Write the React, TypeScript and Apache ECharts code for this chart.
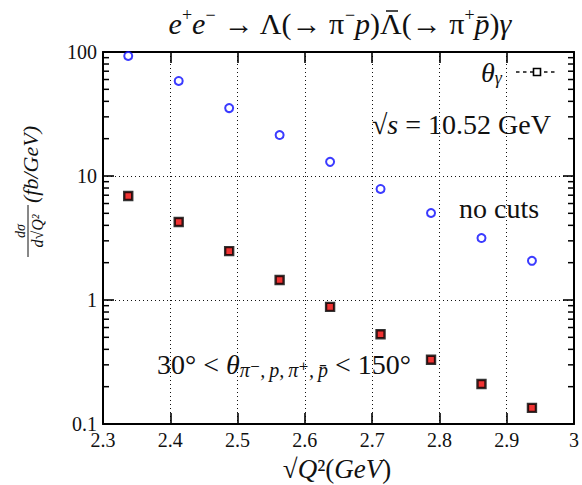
import React, { useEffect, useRef } from "react";
import * as echarts from "echarts";

const xValues = [2.3375, 2.4125, 2.4875, 2.5625, 2.6375, 2.7125, 2.7875, 2.8625, 2.9375];
const noCuts = [92.9, 58.4, 35.3, 21.4, 13.0, 7.86, 5.03, 3.16, 2.07];
const withCuts = [6.9, 4.26, 2.48, 1.45, 0.88, 0.53, 0.33, 0.21, 0.135];
const minorTickValues = [
  0.2, 0.3, 0.4, 0.5, 0.6, 0.7, 0.8, 0.9,
  2, 3, 4, 5, 6, 7, 8, 9,
  20, 30, 40, 50, 60, 70, 80, 90,
];
const xMin = 2.3;
const xMax = 3;
const yMin = 0.1;
const yMax = 100;

const FONT = "'Liberation Serif', 'DejaVu Serif', serif";

export default function App() {
  const ref = useRef<HTMLDivElement>(null);
  useEffect(() => {
    if (!ref.current) return;
    const chart = echarts.init(ref.current, null, { renderer: "svg" });
    const axisLine = { show: true, lineStyle: { color: "#000", width: 2 } };
    const majorTick = { show: true, inside: true, length: 11, lineStyle: { color: "#000", width: 1.6 } };
    const grid = { show: true, lineStyle: { color: "#111", width: 1, type: [1, 3] as any } };
    const tickFont = { fontFamily: FONT, fontSize: 20, color: "#111" };
    const option: any = {
      animation: false,
      backgroundColor: "#fff",
      grid: { left: 103, top: 52, right: 6, bottom: 61, containLabel: false },
      xAxis: [
        {
          type: "value", min: xMin, max: xMax, interval: 0.1,
          axisLine, axisTick: majorTick, splitLine: grid,
          axisLabel: { ...tickFont, margin: 6, formatter: (v: number) => (Math.abs(v - 3) < 1e-9 ? "3" : v.toFixed(1)) },
        },
        {
          type: "value", position: "top", min: xMin, max: xMax, interval: 0.1,
          axisLine, axisTick: majorTick, splitLine: { show: false }, axisLabel: { show: false },
        },
      ],
      yAxis: [
        {
          type: "log", logBase: 10, min: yMin, max: yMax,
          axisLine, axisTick: majorTick, splitLine: grid,
          axisLabel: { ...tickFont, margin: 6, formatter: (v: number) => (v < 1 ? v.toFixed(1) : String(Math.round(v))) },
        },
        {
          type: "log", logBase: 10, min: yMin, max: yMax, position: "right",
          axisLine, axisTick: majorTick, splitLine: { show: false }, axisLabel: { show: false },
        },
      ],
      series: [
        {
          type: "custom",
          silent: true,
          xAxisIndex: 0,
          yAxisIndex: 0,
          z: 5,
          data: minorTickValues.map((v) => [xMin, v]),
          encode: { x: 0, y: 1 },
          renderItem: (params: any, api: any) => {
            const v = api.value(1);
            const pl = api.coord([xMin, v]);
            const pr = api.coord([xMax, v]);
            const st = { stroke: "#000", lineWidth: 1.5 };
            return {
              type: "group",
              children: [
                { type: "line", shape: { x1: pl[0], y1: pl[1], x2: pl[0] + 6, y2: pl[1] }, style: st },
                { type: "line", shape: { x1: pr[0], y1: pr[1], x2: pr[0] - 6, y2: pr[1] }, style: st },
              ],
            };
          },
        },
        {
          name: "no cuts",
          type: "scatter",
          data: xValues.map((x, i) => [x, noCuts[i]]),
          symbol: "emptyCircle",
          symbolSize: 8,
          itemStyle: { color: "#0a0aff", borderColor: "#0a0aff", borderWidth: 2.2 },
          z: 10,
        },
        {
          name: "cuts",
          type: "scatter",
          data: xValues.map((x, i) => [x, withCuts[i]]),
          symbol: "rect",
          symbolSize: 8,
          itemStyle: { color: "#ee0000", borderColor: "#000", borderWidth: 2.4 },
          z: 10,
        },
      ],
      graphic: [
        {
          type: "text",
          x: 340,
          y: 6,
          style: {
            text: "{i|e}{s|+}{i|e}{s|−} → Λ(→ π{s|−}{i|p})Λ(→ π{s|+}{i|p\u0304}){i|γ}",
            font: `30px ${FONT}`,
            fill: "#111",
            align: "center",
            lineHeight: 34,
            rich: {
              i: { fontStyle: "italic", fontSize: 30, fontFamily: FONT, lineHeight: 34 },
              s: { fontSize: 18, fontFamily: FONT, lineHeight: 18, verticalAlign: "top" },
            },
          },
        },
        {
          type: "line",
          shape: { x1: 386, y1: 11, x2: 398, y2: 11 },
          style: { stroke: "#111", lineWidth: 1.5 },
        },
        {
          type: "group",
          x: 28,
          y: 188,
          rotation: Math.PI / 2,
          children: [
            {
              type: "text",
              x: -43,
              y: -8,
              style: { text: "dσ", font: `italic 14px ${FONT}`, fill: "#111", align: "center", verticalAlign: "middle" },
            },
            {
              type: "line",
              shape: { x1: -69, y1: 0, x2: -17, y2: 0 },
              style: { stroke: "#111", lineWidth: 1 },
            },
            {
              type: "text",
              x: -43,
              y: 9,
              style: { text: "d√Q²", font: `italic 16px ${FONT}`, fill: "#111", align: "center", verticalAlign: "middle" },
            },
            {
              type: "text",
              x: -15,
              y: 2,
              style: { text: "(fb/GeV)", font: `italic 22px ${FONT}`, fill: "#111", align: "left", verticalAlign: "middle" },
            },
          ],
        },
        {
          type: "text",
          x: 337,
          y: 469,
          style: {
            text: "√{i|Q}²({i|GeV})",
            font: `27px ${FONT}`,
            fill: "#111",
            align: "center",
            verticalAlign: "middle",
            rich: { i: { fontStyle: "italic", fontSize: 27, fontFamily: FONT } },
          },
        },
        {
          type: "text",
          x: 372,
          y: 124,
          style: {
            text: "√{i|s} = 10.52 GeV",
            font: `28px ${FONT}`,
            fill: "#111",
            align: "left",
            verticalAlign: "middle",
            rich: { i: { fontStyle: "italic", fontSize: 28, fontFamily: FONT } },
          },
        },
        {
          type: "text",
          x: 459,
          y: 208,
          style: { text: "no cuts", font: `28px ${FONT}`, fill: "#111", align: "left", verticalAlign: "middle" },
        },
        {
          type: "text",
          x: 157,
          y: 364,
          style: {
            text: "30° < {i|θ}{sub|π⁻,\u2009p,\u2009π⁺,\u2009p\u0304} < 150°",
            font: `28px ${FONT}`,
            fill: "#111",
            align: "left",
            verticalAlign: "middle",
            lineHeight: 32,
            rich: {
              i: { fontStyle: "italic", fontSize: 28, fontFamily: FONT, lineHeight: 32 },
              sub: { fontStyle: "italic", fontSize: 20, fontFamily: FONT, lineHeight: 17, verticalAlign: "bottom" },
            },
          },
        },
        {
          type: "text",
          x: 481,
          y: 72,
          style: {
            text: "{i|θ}{sub|γ}",
            fill: "#111",
            align: "left",
            verticalAlign: "middle",
            font: `italic 28px ${FONT}`,
            lineHeight: 30,
            rich: {
              i: { fontStyle: "italic", fontSize: 28, fontFamily: FONT, lineHeight: 30 },
              sub: { fontStyle: "italic", fontSize: 18, fontFamily: FONT, lineHeight: 16, verticalAlign: "bottom" },
            },
          },
        },
        {
          type: "line",
          shape: { x1: 516, y1: 72, x2: 558, y2: 72 },
          style: { stroke: "#111", lineWidth: 1.3, lineDash: [3.5, 3.5] },
        },
        {
          type: "rect",
          shape: { x: 533.5, y: 68.5, width: 7, height: 7 },
          style: { fill: "#fff", stroke: "#000", lineWidth: 1.6 },
          z: 10,
        },
      ],
    };
    chart.setOption(option);
    return () => chart.dispose();
  }, []);
  return (
    <div
      ref={ref}
      style={{ position: "fixed", left: 0, top: 0, width: 582, height: 485, background: "#fff" }}
    />
  );
}
